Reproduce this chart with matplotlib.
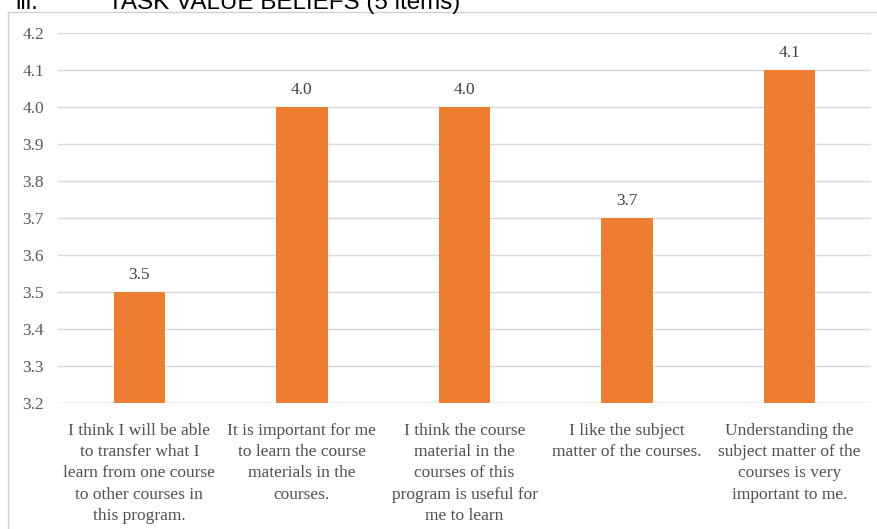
import matplotlib
matplotlib.use("Agg")
import matplotlib.pyplot as plt
from matplotlib.lines import Line2D

categories = [
    "I think I will be able\nto transfer what I\nlearn from one course\nto other courses in\nthis program.",
    "It is important for me\nto learn the course\nmaterials in the\ncourses.",
    "I think the course\nmaterial in the\ncourses of this\nprogram is useful for\nme to learn",
    "I like the subject\nmatter of the courses.",
    "Understanding the\nsubject matter of the\ncourses is very\nimportant to me.",
]
values = [3.5, 4.0, 4.0, 3.7, 4.1]
yticks = [3.2, 3.3, 3.4, 3.5, 3.6, 3.7, 3.8, 3.9, 4.0, 4.1, 4.2]

W, H = 878, 529
fig = plt.figure(figsize=(W / 100, H / 100), dpi=100)
fig.patch.set_facecolor("white")

ax = fig.add_axes([58 / W, 1 - 403 / H, (871 - 58) / W, (403 - 33) / H])
x = list(range(len(categories)))
ax.bar(x, values, width=0.315, color="#ED7D31", zorder=3)
ax.set_xlim(-0.5, len(categories) - 0.5)
ax.set_ylim(3.2, 4.2)
ax.set_yticks(yticks)
ax.set_yticklabels([f"{v:.1f}" for v in yticks], fontfamily="Liberation Serif",
                   fontsize=12.5, color="#595959")
ax.set_xticks(x)
ax.set_xticklabels(categories, fontfamily="Liberation Serif", fontsize=12.5,
                   color="#505050", linespacing=1.43, va="top")
ax.tick_params(axis="y", length=0, pad=10)
ax.tick_params(axis="x", length=0, pad=14.5)
ax.grid(axis="y", color="#d9d9d9", linewidth=1.0, zorder=0)
for s in ax.spines.values():
    s.set_visible(False)
ax.axhline(3.2, color="#d9d9d9", linewidth=1.0, zorder=1)

for xi, v in zip(x, values):
    ax.annotate(f"{v:.1f}", (xi, v), xytext=(0, 9.5), textcoords="offset points",
                ha="center", va="baseline", fontfamily="Liberation Serif",
                fontsize=12.5, color="#404040")

# outer frame (partially cropped)
fig.add_artist(Line2D([8 / W, 8 / W], [0, 1 - 12 / H], transform=fig.transFigure,
                      color="#d0d0d0", linewidth=1.0))
fig.add_artist(Line2D([8 / W, 1], [1 - 12 / H, 1 - 12 / H], transform=fig.transFigure,
                      color="#d0d0d0", linewidth=1.0))

# cropped heading above the chart
fig.text(15 / W, 1 - 9 / H, "iii.", fontfamily="Liberation Sans", fontsize=17.4,
         color="black", va="baseline", ha="left")
fig.text(108 / W, 1 - 9 / H, "TASK VALUE BELIEFS (5 items)", fontfamily="Liberation Sans",
         fontsize=17.4, color="black", va="baseline", ha="left")

fig.savefig("out.png", dpi=100, facecolor="white")
